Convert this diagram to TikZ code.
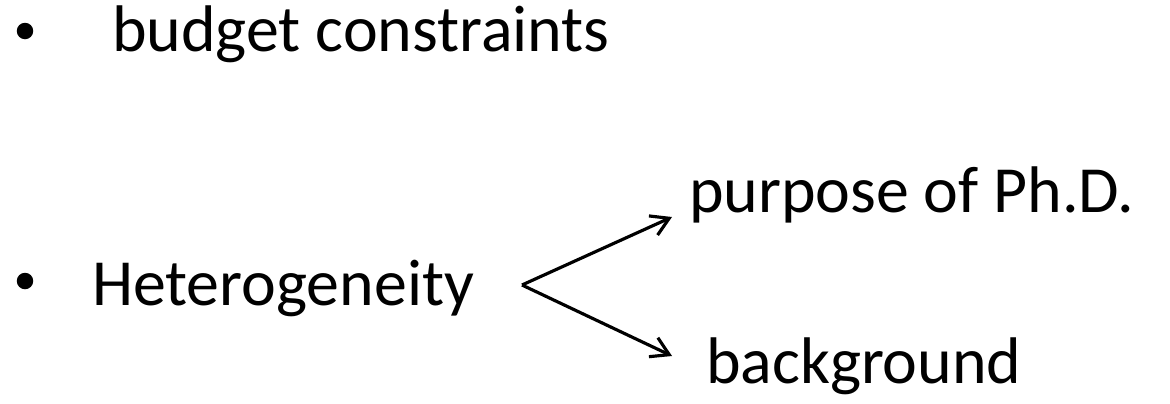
\documentclass[tikz,border=0pt]{standalone}
\usepackage{fontspec}
\setmainfont{Carlito}
\usetikzlibrary{arrows.meta}
\begin{document}
\begin{tikzpicture}[x=0.02cm, y=-0.02cm,
    every node/.style={inner sep=0pt, outer sep=0pt, anchor=base west,
      font=\fontsize{37.5pt}{45pt}\selectfont},
    dot/.style={circle, fill, minimum size=0.33cm, anchor=center},
    branch/.style={line width=1.8pt, -{Straight Barb[length=0.35cm, width=0.42cm, line width=1.8pt]}}]
    \useasboundingbox (0,0) rectangle (1170,403);
    \node[dot] (dotA) at (25,31) {};
    \node (budget) at (112,51) {budget constraints};
    \node[dot] (dotB) at (25,281) {};
    \node (hetero) at (92,305) {Heterogeneity};
    \node (purpose) at (689,212) {purpose of Ph.D.};
    \node (backgr) at (706,383) {background};
    \coordinate (fork) at (522,285);
    \coordinate (tipA) at (672,217);
    \coordinate (tipB) at (672,356);
    \draw[branch] (fork) -- (tipA);
    \draw[branch] (fork) -- (tipB);
  \end{tikzpicture}
\end{document}
